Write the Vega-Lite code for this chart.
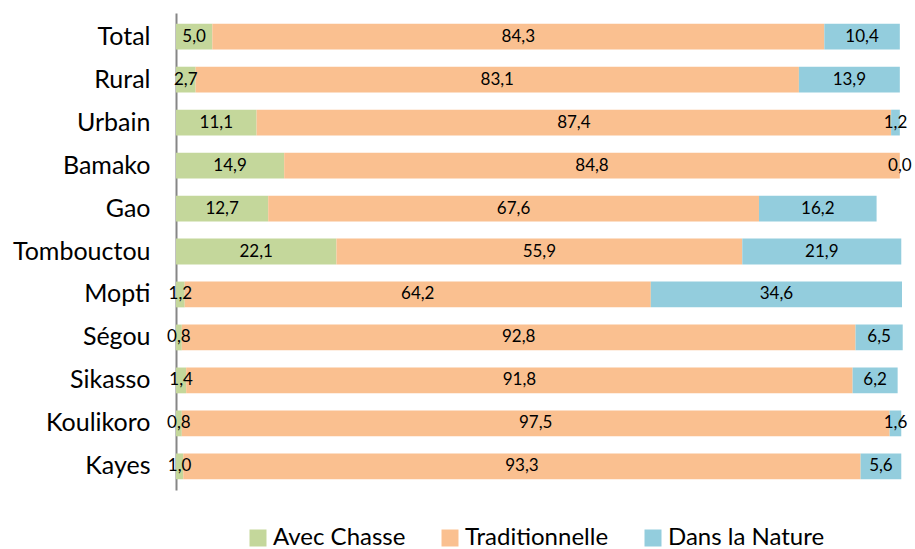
{
  "$schema": "https://vega.github.io/schema/vega-lite/v6.json",
  "autosize": {"type": "none"},
  "width": 726,
  "height": 477,
  "padding": {"left": 176, "top": 13, "right": 13, "bottom": 59},
  "config": {
    "locale": {"number": {"decimal": ",", "thousands": " ", "grouping": [3], "currency": ["", " €"]}},
    "view": {"stroke": null},
    "font": "Lato"
  },
  "data": {
    "values": [
      {"region": "Total", "type": "Avec Chasse", "value": 5.0},
      {"region": "Total", "type": "Traditionnelle", "value": 84.3},
      {"region": "Total", "type": "Dans la Nature", "value": 10.4},
      {"region": "Rural", "type": "Avec Chasse", "value": 2.7},
      {"region": "Rural", "type": "Traditionnelle", "value": 83.1},
      {"region": "Rural", "type": "Dans la Nature", "value": 13.9},
      {"region": "Urbain", "type": "Avec Chasse", "value": 11.1},
      {"region": "Urbain", "type": "Traditionnelle", "value": 87.4},
      {"region": "Urbain", "type": "Dans la Nature", "value": 1.2},
      {"region": "Bamako", "type": "Avec Chasse", "value": 14.9},
      {"region": "Bamako", "type": "Traditionnelle", "value": 84.8},
      {"region": "Bamako", "type": "Dans la Nature", "value": 0.0},
      {"region": "Gao", "type": "Avec Chasse", "value": 12.7},
      {"region": "Gao", "type": "Traditionnelle", "value": 67.6},
      {"region": "Gao", "type": "Dans la Nature", "value": 16.2},
      {"region": "Tombouctou", "type": "Avec Chasse", "value": 22.1},
      {"region": "Tombouctou", "type": "Traditionnelle", "value": 55.9},
      {"region": "Tombouctou", "type": "Dans la Nature", "value": 21.9},
      {"region": "Mopti", "type": "Avec Chasse", "value": 1.2},
      {"region": "Mopti", "type": "Traditionnelle", "value": 64.2},
      {"region": "Mopti", "type": "Dans la Nature", "value": 34.6},
      {"region": "Ségou", "type": "Avec Chasse", "value": 0.8},
      {"region": "Ségou", "type": "Traditionnelle", "value": 92.8},
      {"region": "Ségou", "type": "Dans la Nature", "value": 6.5},
      {"region": "Sikasso", "type": "Avec Chasse", "value": 1.4},
      {"region": "Sikasso", "type": "Traditionnelle", "value": 91.8},
      {"region": "Sikasso", "type": "Dans la Nature", "value": 6.2},
      {"region": "Koulikoro", "type": "Avec Chasse", "value": 0.8},
      {"region": "Koulikoro", "type": "Traditionnelle", "value": 97.5},
      {"region": "Koulikoro", "type": "Dans la Nature", "value": 1.6},
      {"region": "Kayes", "type": "Avec Chasse", "value": 1.0},
      {"region": "Kayes", "type": "Traditionnelle", "value": 93.3},
      {"region": "Kayes", "type": "Dans la Nature", "value": 5.6}
    ]
  },
  "transform": [
    {"stack": "value", "groupby": ["region"], "as": ["v1", "v2"]},
    {"calculate": "(datum.v1 + datum.v2) / 2", "as": "mid"}
  ],
  "encoding": {
    "y": {
      "field": "region",
      "type": "nominal",
      "sort": null,
      "scale": {"paddingInner": 0.4, "paddingOuter": 0.25},
      "axis": {
        "title": null,
        "ticks": false,
        "domainColor": "#868686",
        "domainWidth": 2,
        "labelFontSize": 25,
        "labelColor": "#000000",
        "labelPadding": 26,
        "labelFont": "Lato"
      }
    }
  },
  "layer": [
    {
      "mark": {"type": "bar"},
      "encoding": {
        "x": {"field": "v1", "type": "quantitative", "scale": {"domain": [0, 100]}, "axis": null},
        "x2": {"field": "v2"},
        "color": {
          "field": "type",
          "type": "nominal",
          "sort": ["Avec Chasse", "Traditionnelle", "Dans la Nature"],
          "scale": {"domain": ["Avec Chasse", "Traditionnelle", "Dans la Nature"], "range": ["#C4D79B", "#FAC090", "#93CDDD"]},
          "legend": {
            "title": null,
            "orient": "none",
            "direction": "horizontal",
            "legendX": 70,
            "legendY": 513,
            "symbolType": "square",
            "symbolSize": 289,
            "symbolStrokeWidth": 0,
            "labelFontSize": 24,
            "labelColor": "#000000",
            "labelOffset": 3,
            "labelLimit": 400,
            "columnPadding": 32,
            "labelFont": "Lato"
          }
        }
      }
    },
    {
      "mark": {"type": "text", "fontSize": 17, "color": "#000000", "align": "center", "baseline": "middle"},
      "encoding": {
        "x": {"field": "mid", "type": "quantitative", "scale": {"domain": [0, 100]}},
        "text": {"field": "value", "type": "quantitative", "format": ".1f"}
      }
    }
  ]
}
